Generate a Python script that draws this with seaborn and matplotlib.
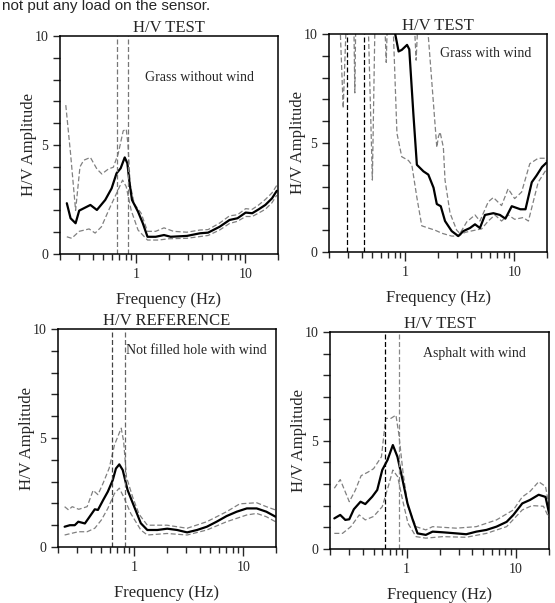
import matplotlib

matplotlib.use("Agg")
import matplotlib.pyplot as plt
import seaborn as sns
from matplotlib.ticker import NullFormatter

sns.set_style("ticks")
plt.rcParams["font.family"] = ["Liberation Serif", "DejaVu Serif"]

# panel 1: grass without wind
P1_MEAN_F = [0.231, 0.25, 0.278, 0.30, 0.38, 0.436, 0.52, 0.595, 0.66, 0.72, 0.785, 0.83, 0.87,
             0.915, 1.04, 1.15, 1.27, 1.51, 1.8, 2.07, 2.92, 3.85, 4.57, 5.83, 7.18, 8.5, 10.1,
             11.6, 13.3, 15.3, 17.6, 19.5]
P1_MEAN = [2.33, 1.64, 1.41, 1.99, 2.25, 2.02, 2.48, 3.01, 3.7, 3.93, 4.43, 4.16, 3.24,
           2.48, 1.94, 1.41, 0.79, 0.79, 0.87, 0.79, 0.83, 0.95, 0.98, 1.25, 1.56, 1.64, 1.9,
           1.87, 2.05, 2.25, 2.55, 2.9]
P1_UP_F = [0.226, 0.25, 0.278, 0.305, 0.33, 0.38, 0.436, 0.484, 0.556, 0.617, 0.684, 0.76, 0.81,
           0.84, 0.88, 0.96, 1.11, 1.27, 1.51, 1.8, 2.2, 2.92, 3.85, 4.57, 5.83, 7.18, 8.5, 10.1,
           11.6, 13.3, 15.3, 17.6, 19.5]
P1_UP = [6.83, 4.6, 2.0, 4.0, 4.3, 4.43, 3.9, 3.67, 3.9, 3.98, 4.6, 5.65, 5.73,
         5.05, 3.2, 2.3, 1.87, 1.04, 1.04, 1.2, 1.04, 1.0, 1.1, 1.12, 1.42, 1.75, 1.8, 2.08,
         2.05, 2.25, 2.5, 2.8, 3.15]
P1_LO_F = [0.231, 0.256, 0.30, 0.37, 0.42, 0.48, 0.57, 0.66, 0.75, 0.81, 0.90, 1.04, 1.27, 1.6,
           2.0, 2.92, 3.85, 4.57, 5.83, 7.18, 8.5, 10.1, 11.6, 13.3, 15.3, 17.6, 19.5]
P1_LO = [0.79, 0.72, 1.04, 1.15, 0.96, 1.25, 2.1, 2.78, 3.39, 3.09, 2.0, 1.1, 0.64, 0.64,
         0.7, 0.72, 0.8, 0.85, 1.1, 1.4, 1.5, 1.72, 1.72, 1.88, 2.05, 2.35, 2.7]
P1_PEAK = [0.66, 0.84]

# panel 2: grass with wind
P2_MEAN_F = [0.2, 0.5, 0.78, 0.81, 0.87, 0.93, 1.04, 1.09, 1.19, 1.28, 1.47, 1.63, 1.82, 1.95,
             2.12, 2.32, 2.67, 3.07, 3.42, 3.93, 4.37, 4.85, 5.4, 6.44, 7.4, 8.3, 9.5, 11.4,
             12.7, 14.5, 16.0, 18.0, 19.8]
P2_MEAN = [14.0, 16.0, 11.0, 10.0, 9.2, 9.27, 9.5, 9.3, 6.3, 4.0, 3.7, 3.55, 2.95, 2.2,
           2.1, 1.42, 0.96, 0.73, 0.96, 1.1, 1.27, 1.1, 1.7, 1.78, 1.7, 1.53, 2.1, 1.96,
           1.96, 3.2, 3.5, 3.9, 4.1]
P2_UP_F = [0.2, 0.3, 0.335, 0.345, 0.355, 0.6, 0.65, 0.67, 0.69, 0.9, 1.2, 1.26, 1.32, 1.55,
           1.63, 1.95, 2.02, 2.09, 2.24, 2.32, 2.58, 2.97, 3.18, 3.67, 4.37, 4.85, 5.78, 6.44,
           7.66, 8.8, 10.1, 11.7, 13.9, 16.6, 19.1, 20.0]
P2_UP = [12.0, 13.0, 12.0, 7.3, 12.0, 13.0, 10.5, 8.7, 11.0, 13.0, 11.0, 8.8, 11.0, 11.0,
         9.9, 4.8, 5.3, 5.5, 4.8, 3.3, 1.78, 1.0, 0.85, 1.38, 1.7, 1.42, 2.3, 2.5,
         2.13, 2.9, 2.45, 2.75, 4.05, 4.3, 4.3, 4.15]
P2_LO_F = [0.2, 0.25, 0.27, 0.29, 0.45, 0.5, 0.53, 0.75, 0.78, 0.84, 0.93, 1.07, 1.15, 1.28,
           1.42, 1.63, 1.88, 2.17, 2.67, 3.07, 3.54, 4.37, 5.03, 5.78, 6.66, 7.66, 8.8, 10.1,
           12.1, 13.5, 16.6, 19.8]
P2_LO = [12.0, 11.0, 6.6, 11.0, 12.0, 3.3, 11.0, 12.0, 10.0, 5.45, 4.37, 4.2, 4.0, 2.5,
         1.2, 1.1, 1.0, 0.86, 0.73, 0.73, 0.9, 1.0, 1.06, 1.42, 1.7, 1.42, 1.7, 1.5,
         1.58, 1.42, 3.2, 3.8]
P2_PEAK = [0.29, 0.42]

# panel 3: not filled hole with wind
P3_MEAN_F = [0.23, 0.257, 0.285, 0.307, 0.353, 0.39, 0.435, 0.465, 0.52, 0.573, 0.636, 0.68,
             0.73, 0.785, 0.87, 1.0, 1.15, 1.32, 1.63, 2.01, 2.48, 3.06, 3.77, 4.64, 5.7, 7.05,
             8.73, 10.8, 13.3, 16.3, 19.8]
P3_MEAN = [0.93, 1.0, 1.0, 1.16, 1.08, 1.39, 1.73, 1.7, 2.16, 2.54, 3.07, 3.6,
           3.79, 3.53, 2.61, 1.85, 1.09, 0.78, 0.78, 0.84, 0.78, 0.67, 0.78, 0.93, 1.16, 1.42,
           1.62, 1.77, 1.77, 1.62, 1.39]
P3_UP_F = [0.23, 0.25, 0.27, 0.31, 0.37, 0.42, 0.465, 0.52, 0.59, 0.66, 0.76, 0.8, 0.85, 0.97,
           1.11, 1.32, 1.63, 2.0, 3.06, 4.64, 7.05, 9.3, 13.3, 16.3, 19.8]
P3_UP = [1.85, 1.7, 1.85, 1.73, 1.85, 2.6, 2.4, 2.94, 3.62, 4.69, 5.45, 4.85, 3.2, 2.28,
         1.5, 1.0, 1.0, 1.0, 0.86, 1.16, 1.62, 1.98, 2.03, 1.85, 1.7]
P3_LO_F = [0.23, 0.307, 0.37, 0.435, 0.5, 0.573, 0.66, 0.73, 0.8, 0.93, 1.15, 1.32, 2.0, 3.06,
           4.64, 7.05, 10.8, 13.3, 16.3, 19.8]
P3_LO = [0.55, 0.7, 0.7, 0.86, 1.24, 1.77, 2.46, 2.7, 2.3, 1.54, 0.78, 0.55, 0.62, 0.55,
         0.78, 1.16, 1.47, 1.54, 1.39, 1.16]
P3_PEAK = [0.62, 0.82]

# panel 4: asphalt with wind
P4_MEAN_F = [0.219, 0.248, 0.276, 0.30, 0.33, 0.38, 0.42, 0.486, 0.54, 0.60, 0.67, 0.75, 0.826,
             0.92, 1.02, 1.14, 1.26, 1.5, 1.73, 2.14, 2.84, 3.51, 4.34, 5.37, 6.63, 8.2, 9.45,
             11.4, 13.4, 16.1, 18.6, 20.0]
P4_MEAN = [1.41, 1.57, 1.34, 1.37, 1.83, 2.18, 2.07, 2.41, 2.72, 3.64, 4.1, 4.79, 4.25,
           3.18, 2.1, 1.34, 0.72, 0.65, 0.8, 0.77, 0.72, 0.68, 0.8, 0.88, 1.03, 1.25, 1.57,
           2.1, 2.26, 2.5, 2.4, 1.66]
P4_UP_F = [0.219, 0.248, 0.30, 0.34, 0.385, 0.44, 0.50, 0.59, 0.645, 0.72, 0.80, 0.85, 0.93,
           1.03, 1.22, 1.5, 1.73, 2.84, 4.34, 6.63, 9.45, 11.4, 13.4, 16.1, 18.6, 20.0]
P4_UP = [2.8, 3.2, 2.18, 2.7, 3.38, 3.53, 3.7, 4.25, 6.02, 6.02, 6.17, 5.3, 3.5,
         1.95, 1.03, 0.88, 1.03, 0.96, 1.03, 1.34, 1.8, 2.4, 2.65, 3.1, 2.88, 1.97]
P4_LO_F = [0.219, 0.26, 0.31, 0.37, 0.42, 0.50, 0.60, 0.68, 0.75, 0.83, 0.92, 1.03, 1.22, 1.5,
           2.14, 3.51, 5.37, 8.2, 11.4, 14.0, 17.8, 20.0]
P4_LO = [0.72, 0.72, 1.03, 1.57, 1.34, 1.5, 1.95, 2.87, 3.64, 3.33, 2.26, 1.19, 0.57, 0.5,
         0.57, 0.54, 0.72, 1.03, 1.8, 2.0, 1.97, 1.43]
P4_PEAK = [0.64, 0.855]

MINOR_F = [0.2, 0.3, 0.4, 0.5, 0.6, 0.7, 0.8, 0.9, 2, 3, 4, 5, 6, 7, 8, 9, 20]


def draw_panel(ax, title, note, note_xy, mean, upper, lower, peak, peak_colors):
    ax.set_xscale("log")
    for f, v in (upper, lower):
        sns.lineplot(x=f, y=v, ax=ax, color="#808080", linewidth=0.9,
                     linestyle=(0, (4, 2)), estimator=None, sort=False)
    sns.lineplot(x=mean[0], y=mean[1], ax=ax, color="black", linewidth=1.6,
                 estimator=None, sort=False)
    for xv, c in zip(peak, peak_colors):
        ax.axvline(xv, color=c, linewidth=0.9, linestyle=(0, (4, 2)))

    ax.set_xlim(0.2, 20)
    ax.set_ylim(0, 10)
    ax.set_xticks([1, 10])
    ax.set_xticklabels(["1", "10"])
    ax.set_xticks(MINOR_F, minor=True)
    ax.xaxis.set_minor_formatter(NullFormatter())
    ax.set_yticks([0, 5, 10])
    ax.set_yticks(range(1, 10), minor=True)
    ax.tick_params(axis="x", which="major", direction="out", length=6.5, width=1.0, labelsize=10)
    ax.tick_params(axis="x", which="minor", direction="out", length=4.3, width=1.0)
    ax.tick_params(axis="y", which="both", direction="out", length=4.8, width=1.0, labelsize=10)
    for sp in ax.spines.values():
        sp.set_visible(True)
        sp.set_linewidth(1.1)
        sp.set_color("black")

    ax.set_title(title, fontsize=12, pad=1)
    ax.set_xlabel("Frequency (Hz)", fontsize=12, labelpad=8)
    ax.set_ylabel("H/V Amplitude", fontsize=12)
    ax.yaxis.set_label_coords(-0.105, 0.5)
    ax.text(note_xy[0], note_xy[1], note, transform=ax.transAxes, fontsize=10,
            ha="center", va="center")


W, H = 555, 603
fig = plt.figure(figsize=(W / 100, H / 100), dpi=100)
ax1 = fig.add_axes([60 / W, 1 - 254 / H, 218 / W, 218 / H])
ax2 = fig.add_axes([329 / W, 1 - 252 / H, 218 / W, 218 / H])
ax3 = fig.add_axes([58 / W, 1 - 547 / H, 218 / W, 218 / H])
ax4 = fig.add_axes([330 / W, 1 - 549 / H, 219 / W, 217 / H])

draw_panel(ax1, "H/V TEST", "Grass without wind", (0.64, 0.81),
           (P1_MEAN_F, P1_MEAN), (P1_UP_F, P1_UP), (P1_LO_F, P1_LO),
           P1_PEAK, ["#777777", "#777777"])
draw_panel(ax2, "H/V TEST", "Grass with wind", (0.72, 0.91),
           (P2_MEAN_F, P2_MEAN), (P2_UP_F, P2_UP), (P2_LO_F, P2_LO),
           P2_PEAK, ["black", "black"])
draw_panel(ax3, "H/V REFERENCE", "Not filled hole with wind", (0.635, 0.90),
           (P3_MEAN_F, P3_MEAN), (P3_UP_F, P3_UP), (P3_LO_F, P3_LO),
           P3_PEAK, ["#444444", "#666666"])
draw_panel(ax4, "H/V TEST", "Asphalt with wind", (0.66, 0.90),
           (P4_MEAN_F, P4_MEAN), (P4_UP_F, P4_UP), (P4_LO_F, P4_LO),
           P4_PEAK, ["black", "#888888"])

fig.text(2 / W, 1 - 10 / H, "not put any load on the sensor.", fontsize=11,
         family=["Liberation Sans", "DejaVu Sans"], ha="left", va="baseline")

fig.savefig("out.png", dpi=100)
plt.close(fig)
